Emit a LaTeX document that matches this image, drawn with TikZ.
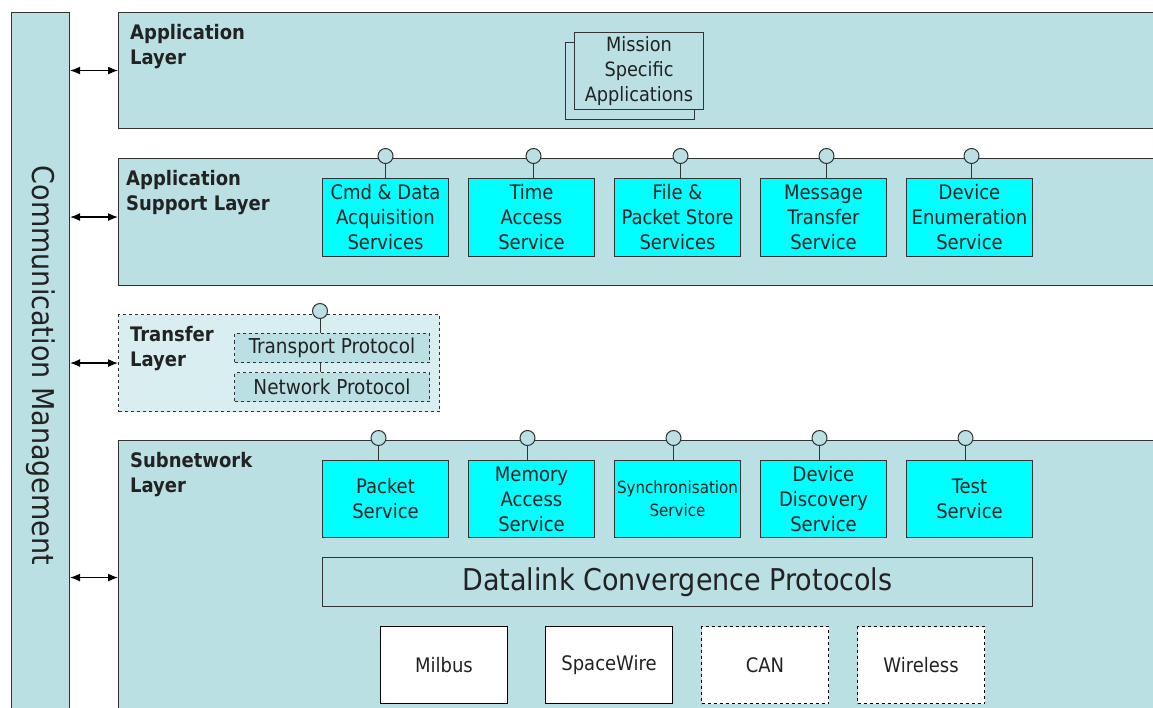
\documentclass[tikz,border=0pt]{standalone}
\usepackage{fontspec}
\setmainfont{DejaVu Sans Condensed}
\usetikzlibrary{positioning,arrows.meta}
\definecolor{layerColor}{RGB}{187,224,227}
\definecolor{transferColor}{RGB}{217,238,240}
\definecolor{serviceColor}{RGB}{0,255,255}
\definecolor{drawColor}{RGB}{51,51,51}
\definecolor{textColor}{RGB}{34,34,34}
\tikzset{
  layer/.style={draw=drawColor, fill=layerColor, line width=1.1pt, rectangle, inner sep=0pt, anchor=north west},
  layertitle/.style={anchor=north west, inner sep=0pt, align=left, text=textColor, font=\bfseries\fontsize{20}{25}\selectfont},
  service/.style={draw=drawColor, fill=serviceColor, line width=1pt, minimum width=126pt, minimum height=78pt, inner sep=0pt, align=center, text=textColor, font=\fontsize{20}{25}\selectfont},
  pin/.style={circle, draw=drawColor, fill=layerColor, line width=1pt, minimum size=15pt, inner sep=0pt},
  protocol/.style={draw=drawColor, fill=layerColor, dashed, line width=1pt, minimum width=195pt, minimum height=29pt, inner sep=0pt, anchor=north west, text=textColor, font=\fontsize{20.5}{24}\selectfont},
  mission/.style={draw=drawColor, fill=layerColor, line width=1pt, minimum width=129pt, minimum height=77pt, inner sep=0pt, anchor=north west, align=center, text=textColor, font=\fontsize{19.7}{25}\selectfont},
  phys/.style={draw=black, fill=white, line width=1pt, minimum width=127pt, minimum height=77pt, inner sep=0pt, anchor=north west, text=textColor, font=\fontsize{20}{24}\selectfont},
  biarrow/.style={{Latex[length=10pt,width=8pt]}-{Latex[length=10pt,width=8pt]}, line width=1.2pt}
}
\begin{document}
\begin{tikzpicture}[x=1pt,y=-1pt]
\useasboundingbox[fill=white] (0,0) rectangle (1153,708);
\clip (0,0) rectangle (1153,708);

% communication management column
\node[layer, minimum width=58pt, minimum height=706pt] (comm) at (11,12) {};
\node[rotate=-90, text=textColor, font=\fontsize{30}{34}\selectfont] (commtext) at (comm.center) {Communication Management};

% layers
\node[layer, minimum width=1050pt, minimum height=116pt] (applayer) at (118,12) {};
\node[layer, minimum width=1050pt, minimum height=127pt] (aslayer) at (118,158) {};
\node[layer, fill=transferColor, dashed, minimum width=321pt, minimum height=97pt] (trlayer) at (118,314) {};
\node[layer, minimum width=1050pt, minimum height=280pt] (snlayer) at (118,440) {};

\node[layertitle] (apptitle) at ([xshift=12pt,yshift=-12pt]applayer.north west) {Application\\Layer};
\node[layertitle] (astitle) at ([xshift=8pt,yshift=-12pt]aslayer.north west) {Application\\Support Layer};
\node[layertitle] (trtitle) at ([xshift=12pt,yshift=-12pt]trlayer.north west) {Transfer\\Layer};
\node[layertitle] (sntitle) at ([xshift=12pt,yshift=-12pt]snlayer.north west) {Subnetwork\\Layer};

% arrows to communication management
\coordinate (asport) at ([yshift=5pt]aslayer.west);
\coordinate (snport) at ([yshift=3pt]snlayer.west);
\draw[biarrow] (comm.east |- applayer.west) -- (applayer.west);
\draw[biarrow] (comm.east |- asport) -- (asport);
\draw[biarrow] (comm.east |- trlayer.west) -- (trlayer.west);
\draw[biarrow] (comm.east |- snport) -- (snport);

% application layer
\node[mission] (missionback) at (565,42) {};
\node[mission] (mission) at (574,32) {Mission\\Specific\\Applications};

% application support layer
\node[service, anchor=north west] (as1) at (322,178) {Cmd \& Data\\Acquisition\\Services};
\node[service, right=19pt of as1] (as2) {Time\\Access\\Service};
\node[service, right=19pt of as2] (as3) {File \&\\Packet Store\\Services};
\node[service, right=19pt of as3] (as4) {Message\\Transfer\\Service};
\node[service, right=19pt of as4] (as5) {Device\\Enumeration\\Service};
\foreach \s/\dx in {as1/0,as2/2,as3/3,as4/3,as5/2} {
  \node[pin, above=14pt of \s, xshift=\dx pt] (\s pin) {};
  \draw[drawColor, line width=1pt] (\s pin) -- (\s pin |- \s.north);
}

% transfer layer
\node[protocol] (transport) at (234,333) {Transport Protocol};
\node[protocol] (network) at (234,372) {Network Protocol};
\node[pin] (trpin) at (320,311) {};
\draw[drawColor, line width=1pt] (trpin) -- (trpin |- transport.north);
\draw[drawColor, line width=1pt] (transport.south -| trpin) -- (network.north -| trpin);

% subnetwork layer
\node[service, anchor=north west, minimum height=77pt] (sn1) at (322,460) {Packet\\Service};
\node[service, minimum height=77pt, right=19pt of sn1] (sn2) {Memory\\Access\\Service};
\node[service, minimum height=77pt, right=19pt of sn2, font=\fontsize{16.8}{23}\selectfont] (sn3) {Synchronisation\\Service};
\node[service, minimum height=77pt, right=19pt of sn3] (sn4) {Device\\Discovery\\Service};
\node[service, minimum height=77pt, right=19pt of sn4] (sn5) {Test\\Service};
\foreach \s/\dx in {sn1/-7,sn2/-4,sn3/-4,sn4/-4,sn5/-4} {
  \node[pin, above=14pt of \s, xshift=\dx pt] (\s pin) {};
  \draw[drawColor, line width=1pt] (\s pin) -- (\s pin |- \s.north);
}

\node[draw=drawColor, fill=layerColor, line width=1pt, minimum width=710pt, minimum height=49pt, inner sep=0pt, anchor=north west, text=textColor, font=\fontsize{30}{34}\selectfont] (datalink) at (322,557) {Datalink Convergence Protocols};

\node[phys] (milbus) at (380,626) {Milbus};
\node[phys] (spacewire) at (545,626) {SpaceWire};
\node[phys, dashed] (can) at (701,626) {CAN};
\node[phys, dashed] (wireless) at (857,626) {Wireless};
\end{tikzpicture}
\end{document}
